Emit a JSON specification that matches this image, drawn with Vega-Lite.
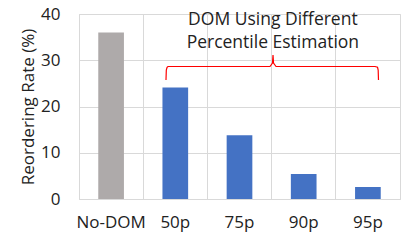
{
  "$schema": "https://vega.github.io/schema/vega-lite/v6.json",
  "autosize": "none",
  "width": 321,
  "height": 185,
  "padding": {"left": 79, "top": 14, "right": 4, "bottom": 44},
  "background": "white",
  "config": {
    "view": {"stroke": "#D9D9D9", "strokeWidth": 1},
    "font": "Open Sans",
    "axis": {"labelFont": "Open Sans", "titleFont": "Open Sans"},
    "text": {"font": "Open Sans"}
  },
  "datasets": {
    "bars": [
      {"method": "No-DOM", "rate": 36.0, "group": "base"},
      {"method": "50p", "rate": 24.1, "group": "dom"},
      {"method": "75p", "rate": 13.8, "group": "dom"},
      {"method": "90p", "rate": 5.4, "group": "dom"},
      {"method": "95p", "rate": 2.6, "group": "dom"}
    ],
    "brace": [
      {"i": 1, "bx": 1.355, "by": 25.73},
      {"i": 2, "bx": 1.360, "by": 27.89},
      {"i": 3, "bx": 1.372, "by": 28.48},
      {"i": 4, "bx": 1.386, "by": 28.65},
      {"i": 5, "bx": 2.975, "by": 28.65},
      {"i": 6, "bx": 3.014, "by": 29.41},
      {"i": 7, "bx": 3.022, "by": 31.14},
      {"i": 8, "bx": 3.030, "by": 29.41},
      {"i": 9, "bx": 3.069, "by": 28.65},
      {"i": 10, "bx": 4.611, "by": 28.65},
      {"i": 11, "bx": 4.650, "by": 28.48},
      {"i": 12, "bx": 4.660, "by": 27.89},
      {"i": 13, "bx": 4.665, "by": 25.73}
    ],
    "notes": [
      {"tx": 3.02, "ty": 38.6, "label": "DOM Using Different"},
      {"tx": 3.02, "ty": 33.7, "label": "Percentile Estimation"}
    ]
  },
  "layer": [
    {
      "data": {"name": "bars"},
      "mark": {"type": "bar", "width": {"band": 0.4}},
      "encoding": {
        "x": {
          "field": "method", "type": "nominal", "sort": null,
          "scale": {"paddingInner": 0, "paddingOuter": 0},
          "axis": {
            "title": null, "labelAngle": 0, "grid": true, "bandPosition": 0,
            "gridColor": "#D9D9D9", "domainColor": "#D9D9D9", "ticks": false, "tickSize": 0,
            "labelPadding": 15, "labelFontSize": 17, "labelColor": "#222222", "labelBaseline": "top"
          }
        },
        "y": {
          "field": "rate", "type": "quantitative",
          "scale": {"domain": [0, 40]},
          "axis": {
            "title": "Reordering Rate (%)", "values": [0, 10, 20, 30, 40],
            "domain": false, "ticks": false, "tickSize": 0, "grid": true, "gridColor": "#D9D9D9",
            "labelPadding": 19, "labelFontSize": 17, "labelColor": "#222222",
            "titleFontSize": 17, "titleFontWeight": "normal", "titleColor": "#222222", "titlePadding": 3
          }
        },
        "color": {
          "field": "group", "type": "nominal",
          "scale": {"domain": ["base", "dom"], "range": ["#AEAAAA", "#4472C4"]},
          "legend": null
        }
      }
    },
    {
      "data": {"name": "brace"},
      "mark": {"type": "line", "color": "#FF0000", "strokeWidth": 1.2},
      "encoding": {
        "x": {"field": "bx", "type": "quantitative", "scale": {"domain": [0, 5], "nice": false, "zero": false}, "axis": null},
        "y": {"field": "by", "type": "quantitative"},
        "order": {"field": "i"}
      }
    },
    {
      "data": {"name": "notes"},
      "mark": {"type": "text", "fontSize": 17.5, "color": "#222222", "baseline": "middle", "align": "center"},
      "encoding": {
        "x": {"field": "tx", "type": "quantitative", "scale": {"domain": [0, 5], "nice": false, "zero": false}, "axis": null},
        "y": {"field": "ty", "type": "quantitative"},
        "text": {"field": "label"}
      }
    }
  ],
  "resolve": {"scale": {"x": "independent"}}
}
